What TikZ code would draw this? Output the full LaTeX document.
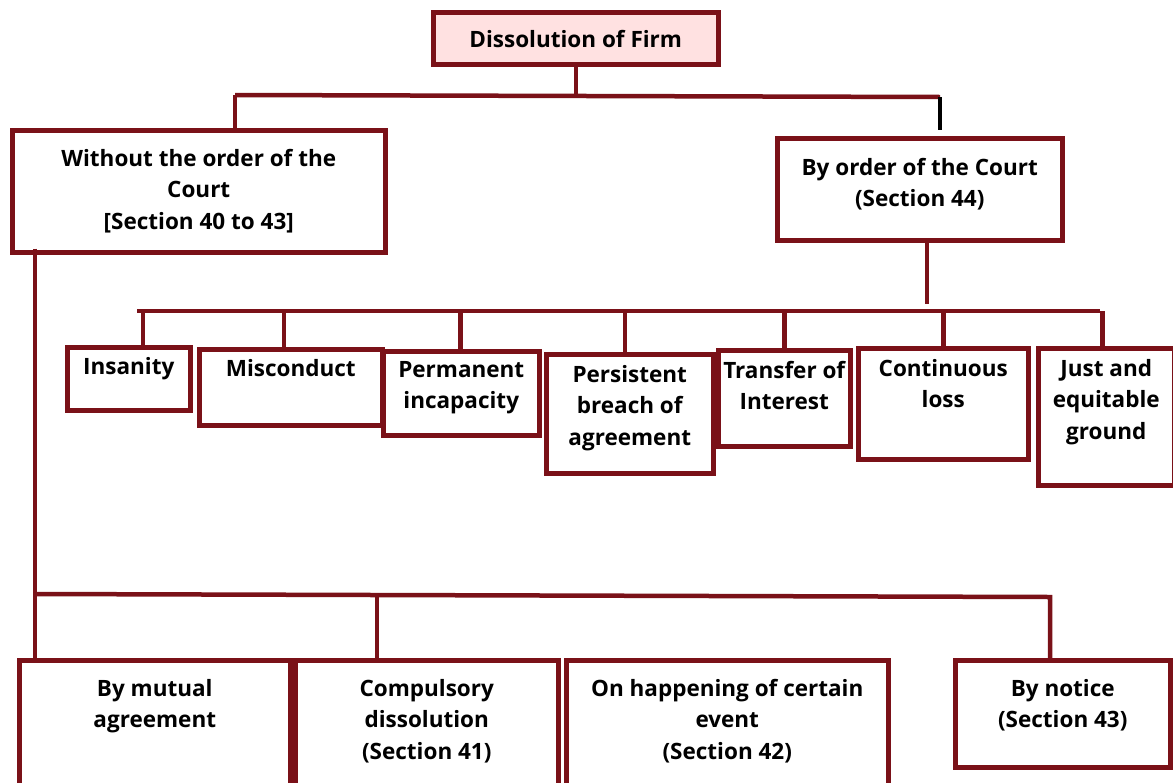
\documentclass[tikz,border=0pt]{standalone}
\usepackage{fontspec}
\setmainfont{Open Sans}
\usetikzlibrary{positioning}
\definecolor{firmred}{RGB}{122,17,24}
\definecolor{firmpink}{RGB}{255,225,225}
\tikzset{
  box/.style={draw=firmred, line width=4.5pt, anchor=north west, inner sep=0pt},
  lbl/.style={font=\bfseries\fontsize{22.5}{31.5}\selectfont, align=center, inner sep=0pt},
  link/.style={draw=firmred, line width=4.5pt}
}
\begin{document}
\begin{tikzpicture}[x=1pt,y=-1pt]
\useasboundingbox (0,0) rectangle (1173,782);
% top level
\node[box, fill=firmpink, minimum width=285pt, minimum height=52pt] (dis) at (431,10) {};
\node[lbl, below=20pt of dis.north] {Dissolution of Firm};
\node[box, minimum width=373pt, minimum height=122pt] (wo) at (10,128) {};
\node[lbl, below=21pt of wo.north] {Without the order of the\\Court\\{}[Section 40 to 43]};
\node[box, minimum width=285pt, minimum height=102pt] (bc) at (775,136) {};
\node[lbl, below=22pt of bc.north] {By order of the Court\\(Section 44)};
% grounds for the court
\node[box, minimum width=123pt, minimum height=63pt] (ins) at (65,345) {};
\node[lbl, below=12pt of ins.north] {Insanity};
\node[box, minimum width=183pt, minimum height=76pt] (mis) at (197,347) {};
\node[lbl, below=12pt of mis.north] {Misconduct};
\node[box, minimum width=156pt, minimum height=84pt] (per) at (381,349) {};
\node[lbl, below=12pt of per.north] {Permanent\\incapacity};
\node[box, minimum width=167pt, minimum height=119pt] (pbr) at (544,352) {};
\node[lbl, below=13pt of pbr.north] {Persistent\\breach of\\agreement};
\node[box, minimum width=132pt, minimum height=96pt] (tra) at (716,348) {};
\node[lbl, below=13pt of tra.north] {Transfer of\\Interest};
\node[box, minimum width=170pt, minimum height=111pt] (con) at (856,346) {};
\node[lbl, below=13pt of con.north] {Continuous\\loss};
\node[box, minimum width=136pt, minimum height=137pt] (jus) at (1036,346) {};
\node[lbl, below=13pt of jus.north] {Just and\\equitable\\ground};
% without the court
\node[box, minimum width=271pt, minimum height=140pt] (mut) at (17,658) {};
\node[lbl, below=21pt of mut.north] {By mutual\\agreement};
\node[box, minimum width=263pt, minimum height=140pt] (cmp) at (293,658) {};
\node[lbl, below=21pt of cmp.north] {Compulsory\\dissolution\\(Section 41)};
\node[box, minimum width=322pt, minimum height=140pt] (hap) at (564,658) {};
\node[lbl, below=21pt of hap.north] {On happening of certain\\event\\(Section 42)};
\node[box, minimum width=215pt, minimum height=107pt] (not) at (953,658) {};
\node[lbl, below=21pt of not.north] {By notice\\(Section 43)};
% connectors
\coordinate (b1l) at (235,95);
\coordinate (b1r) at (940,97);
\draw[link] (dis.south) -- (dis.south |- b1l);
\draw[link] (b1l) -- (b1r);
\draw[link] (b1l) -- ([yshift=-3pt]b1l |- wo.north);
\draw[line width=4.5pt, black] (b1r) -- ([yshift=6pt]b1r |- bc.north);
\coordinate (b2l) at (137,311);
\coordinate (b2r) at (1100,311);
\draw[link] ([xshift=7pt]bc.south) -- ([xshift=7pt,yshift=7pt]bc.south |- b2l);
\draw[link] (b2l) -- (b2r);
\foreach \n/\dx in {ins/14, mis/-7, per/-1, pbr/-5, tra/0, con/0, jus/-4}
  \draw[link] ([xshift=\dx pt]\n.north |- b2l) -- ([xshift=\dx pt]\n.north);
\coordinate (b3l) at (35,594);
\coordinate (b3r) at (1050,597);
\draw[link] ([yshift=6pt]wo.south -| b3l) -- (b3l |- mut.north);
\draw[link] (b3l) -- (b3r) -- (b3r |- not.north);
\draw[link] ([xshift=-50pt]cmp.north |- b3l) -- ([xshift=-50pt]cmp.north);
\end{tikzpicture}
\end{document}
